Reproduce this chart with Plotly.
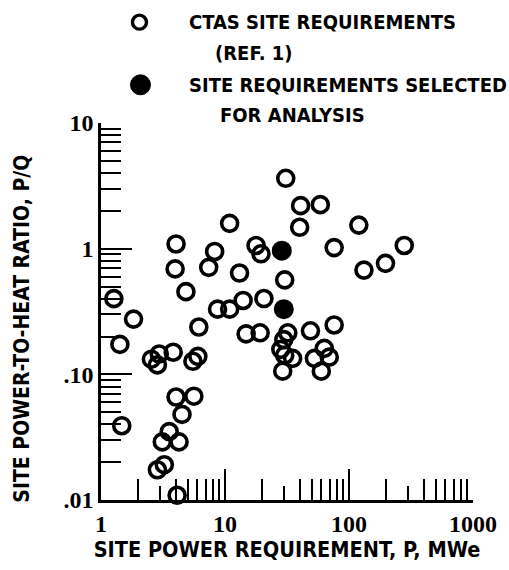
import plotly.graph_objects as go

# CTAS site requirements (open circles): site power P [MWe] and power-to-heat ratio P/Q
ctas_power = [1.27, 1.83, 1.42, 1.47, 2.55, 2.95, 2.85, 3.82, 5.51, 6.04,
              4.03, 5.61, 4.50, 3.55, 3.12, 4.26, 2.85, 3.24, 4.11, 4.03,
              3.96, 8.25, 7.39, 4.84, 6.15, 8.71, 10.9, 10.9, 13.1, 17.8,
              19.5, 14.0, 20.6, 14.8, 19.2, 30.9, 40.7, 58.7, 40.0, 120.0,
              75.9, 30.3, 32.1, 48.9, 75.9, 29.8, 28.2, 30.3, 35.1, 29.2,
              52.6, 63.2, 69.3, 59.8, 132.0, 197.0, 279.0]
ctas_ratio = [0.40, 0.275, 0.173, 0.039, 0.132, 0.145, 0.119, 0.150, 0.127, 0.139,
              0.066, 0.067, 0.048, 0.035, 0.029, 0.029, 0.0174, 0.0191, 0.0109, 1.09,
              0.69, 0.95, 0.71, 0.455, 0.238, 0.33, 0.33, 1.59, 0.64, 1.06,
              0.91, 0.387, 0.401, 0.210, 0.214, 3.63, 2.20, 2.24, 1.48, 1.54,
              1.02, 0.564, 0.214, 0.222, 0.247, 0.189, 0.158, 0.142, 0.134, 0.106,
              0.134, 0.161, 0.137, 0.106, 0.675, 0.764, 1.06]

# Site requirements selected for analysis (filled circles)
sel_power = [28.7, 29.8]
sel_ratio = [0.964, 0.33]

x_tickvals = [1, 10, 100, 1000]
x_ticktext = ["1", "10", "100", "1000"]
y_tickvals = [0.01, 0.1, 1, 10]
y_ticktext = [".01", ".10", "1", "10"]

x_minor = [m * d for d in (1, 10, 100) for m in (2, 4, 5, 6, 7, 8, 9)]
x_short = [3, 30, 300]
y_minor = [m * d for d in (0.01, 0.1, 1) for m in (2, 3, 4, 5, 6, 7, 8, 9)]

legend_text = ["CTAS SITE REQUIREMENTS", "(REF. 1)",
               "SITE REQUIREMENTS SELECTED", "FOR ANALYSIS"]
x_title = "SITE POWER REQUIREMENT, P, MWe"
y_title = "SITE POWER-TO-HEAT RATIO, P/Q"

W, H = 509, 570
L, R, T, B = 101, 31, 123, 62
PW, PH = W - L - R, H - T - B

LETTER = "DejaVu Sans Condensed, Liberation Sans Narrow, sans-serif"
DIGITS = "Liberation Serif, DejaVu Serif, serif"


def px(xp):
    return (xp - L) / PW


def py(yp):
    return (H - B - yp) / PH


fig = go.Figure()
fig.add_trace(go.Scatter(
    x=ctas_power, y=ctas_ratio, mode="markers", name=legend_text[0],
    marker=dict(symbol="circle-open", size=16, color="black",
                line=dict(width=3.6, color="black")),
    cliponaxis=False,
))
fig.add_trace(go.Scatter(
    x=sel_power, y=sel_ratio, mode="markers", name=legend_text[2],
    marker=dict(symbol="circle", size=17, color="black",
                line=dict(width=3, color="black")),
    cliponaxis=False,
))
# carrier trace for the shorter tick marks on the x axis
fig.add_trace(go.Scatter(x=[1, 1000], y=[0.01, 0.01], xaxis="x2", mode="markers",
                         marker=dict(opacity=0), showlegend=False, hoverinfo="skip"))

axis_common = dict(
    type="log", showgrid=False, zeroline=False, showline=True,
    linecolor="black", linewidth=2.5, ticks="inside", tickcolor="black",
    tickwidth=2, ticklen=31, tickmode="array",
    tickfont=dict(family=DIGITS, size=24, color="black", weight="bold"),
)

fig.update_layout(
    width=W, height=H, margin=dict(l=L, r=R, t=T, b=B),
    paper_bgcolor="white", plot_bgcolor="white", showlegend=False,
    xaxis=dict(axis_common, range=[0, 3], tickvals=x_tickvals, ticktext=x_ticktext,
               minor=dict(tickmode="array", tickvals=x_minor, ticks="inside",
                          ticklen=21, tickwidth=2, tickcolor="black"),
               title=dict(text=x_title, standoff=6,
                          font=dict(family=LETTER, size=21.5, color="black", weight="bold"))),
    xaxis2=dict(type="log", range=[0, 3], overlaying="x", anchor="y", side="bottom",
                showgrid=False, zeroline=False, showline=False, ticks="inside",
                tickmode="array", tickvals=x_short, ticklen=14, tickwidth=2,
                tickcolor="black", showticklabels=False),
    yaxis=dict(axis_common, range=[-2, 1], tickvals=y_tickvals, ticktext=y_ticktext,
               minor=dict(tickmode="array", tickvals=y_minor, ticks="inside",
                          ticklen=20, tickwidth=2, tickcolor="black")),
)

# legend glyphs and text
fig.add_shape(type="circle", xref="paper", yref="paper", xsizemode="pixel",
              ysizemode="pixel", xanchor=px(140), yanchor=py(20),
              x0=-7, x1=7, y0=-7, y1=7, line=dict(color="black", width=3.4))
fig.add_shape(type="circle", xref="paper", yref="paper", xsizemode="pixel",
              ysizemode="pixel", xanchor=px(141), yanchor=py(84),
              x0=-10, x1=10, y0=-10, y1=10, fillcolor="black",
              line=dict(color="black", width=1))
for txt, xl, yc in zip(legend_text, (188, 215, 188, 220), (20, 52, 84, 115)):
    fig.add_annotation(text=txt, xref="paper", yref="paper", x=px(xl), y=py(yc),
                       xanchor="left", yanchor="middle", showarrow=False,
                       font=dict(family=LETTER, size=20, color="black", weight="bold"))

fig.add_annotation(text=y_title, xref="paper", yref="paper", x=px(21), y=py(333),
                   xanchor="center", yanchor="middle", textangle=-90, showarrow=False,
                   font=dict(family=LETTER, size=21, color="black", weight="bold"))

fig.write_html("out.html")
